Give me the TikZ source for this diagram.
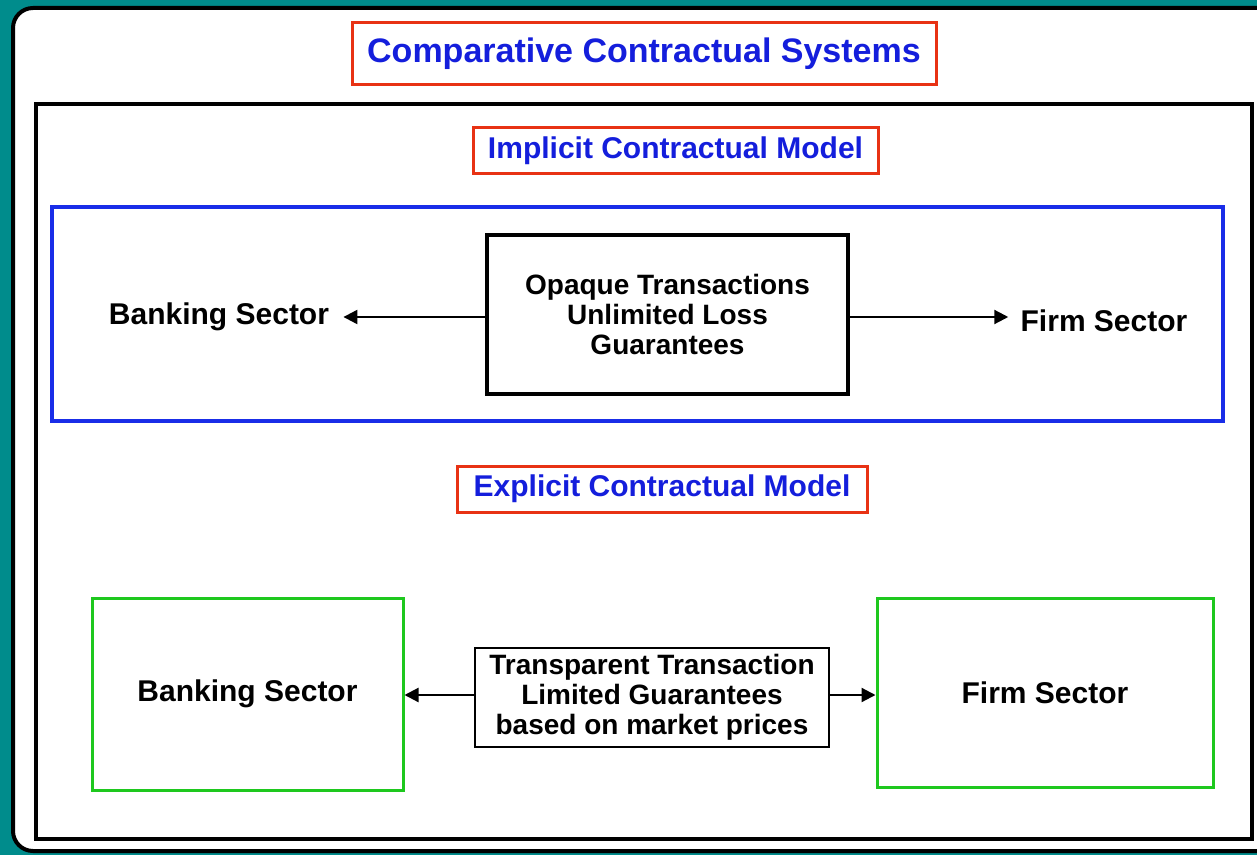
\documentclass[tikz,border=0pt]{standalone}
\usepackage{fontspec}
\setmainfont{Liberation Sans}
\usetikzlibrary{arrows.meta}
\definecolor{bgteal}{RGB}{0,140,140}
\definecolor{hdblue}{RGB}{20,30,220}
\definecolor{hdred}{RGB}{232,50,20}
\definecolor{frblue}{RGB}{25,45,232}
\definecolor{frgreen}{RGB}{30,200,30}
\tikzset{
  headbox/.style={draw=hdred, line width=1.5pt, text=hdblue, font=\bfseries\fontsize{15}{17}\selectfont, inner sep=0pt},
  sectorlabel/.style={font=\bfseries\fontsize{15}{17}\selectfont, inner ysep=0pt},
  dealbox/.style={draw, align=center, font=\bfseries\fontsize{14}{15}\selectfont, inner sep=0pt},
  greenbox/.style={draw=frgreen, line width=1.5pt, font=\bfseries\fontsize{15}{17}\selectfont, inner sep=0pt},
  link/.style={line width=1.1pt, -{Triangle[length=7pt,width=7pt]}}
}
\begin{document}
\begin{tikzpicture}[x=0.5pt,y=-0.5pt]
  \useasboundingbox (0,0) rectangle (1257,855);
  \fill [bgteal] (0,0) rectangle (1257,855); % background
  \begin{scope}
    \clip (0,0) rectangle (1257,855);
    \draw [line width=2pt, fill=white, rounded corners=10pt] (13,8) rectangle (1290,851); % outer panel
  \end{scope}
  \draw [line width=2pt] (36,104) rectangle (1252,839); % inner panel

  \node [headbox, minimum width=292pt, minimum height=31pt, font=\bfseries\fontsize{17}{19}\selectfont] (title) at (644,54) {Comparative Contractual Systems};

  % implicit model
  \node [headbox, minimum width=202.5pt, minimum height=23pt] (implicit) at (675.5,151) {Implicit Contractual Model};
  \draw [frblue, line width=2pt] (52,207) rectangle (1223,421); % Draws a rectangle
  \node [dealbox, line width=2pt, minimum width=180.5pt, minimum height=79pt] (opaque) at (667.5,314.5) {Opaque Transactions\\Unlimited Loss\\Guarantees};
  \node [sectorlabel, inner xsep=7pt] (bank1) at (219,317) {Banking Sector};
  \node [sectorlabel, inner xsep=6pt] (firm1) at (1104,321) {Firm Sector};
  \draw [link] (opaque.west |- 0,317) -- (bank1.east |- 0,317);
  \draw [link] (opaque.east |- 0,317) -- (firm1.west |- 0,317);

  % explicit model
  \node [headbox, minimum width=205pt, minimum height=23pt] (explicit) at (662,489) {Explicit Contractual Model};
  \node [greenbox, minimum width=155.5pt, minimum height=96pt] (bank2) at (247.5,694) {Banking Sector};
  \node [greenbox, minimum width=168pt, minimum height=94.5pt] (firm2) at (1045,692.5) {Firm Sector};
  \node [dealbox, line width=1pt, minimum width=177pt, minimum height=49.5pt] (transparent) at (652,697.5) {Transparent Transaction\\Limited Guarantees\\based on market prices};
  \draw [link] (transparent.west |- 0,695) -- (bank2.east |- 0,695);
  \draw [link] (transparent.east |- 0,695) -- (firm2.west |- 0,695);
\end{tikzpicture}
\end{document}
